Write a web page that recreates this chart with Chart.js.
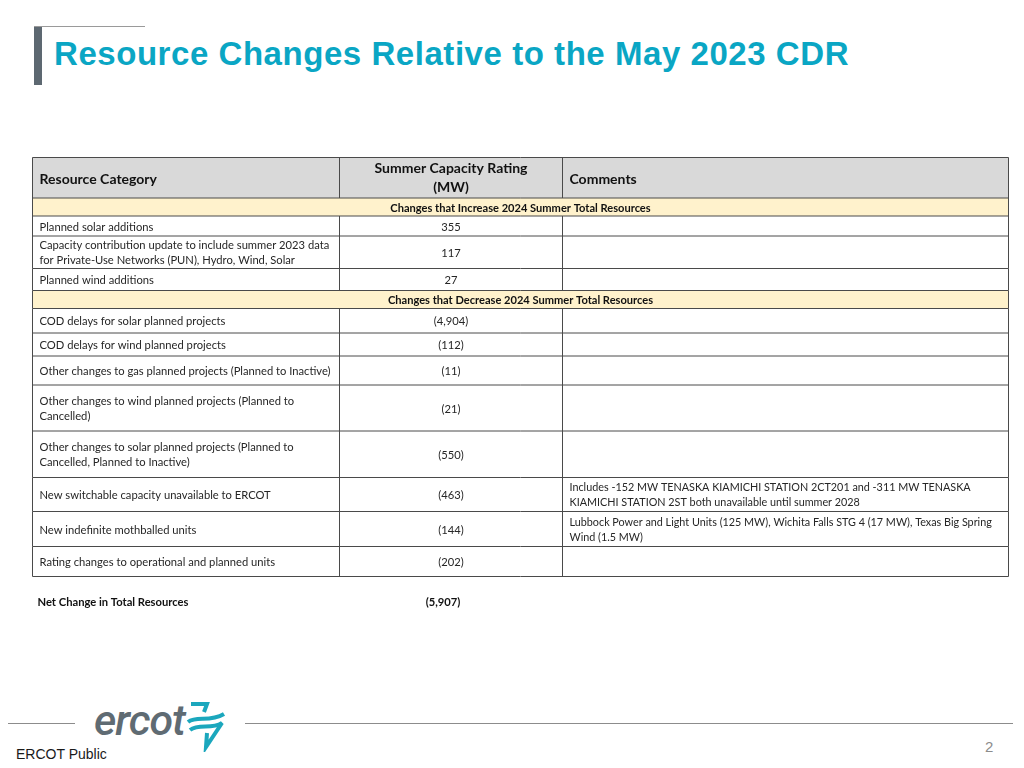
<!DOCTYPE html>
<html>
<head>
<meta charset="utf-8">
<script src="https://cdn.jsdelivr.net/npm/chart.js@4/dist/chart.umd.min.js"></script>
<style>
  html, body { margin: 0; padding: 0; background: #fff; }
  #page { position: relative; width: 1024px; height: 768px; overflow: hidden; font-family: "Liberation Sans", Arial, sans-serif; }
  .abs { position: absolute; }
  #bar { left: 34px; top: 27px; width: 8px; height: 58px; background: #5d6871; }
  #topline { left: 34px; top: 26px; width: 111px; height: 1px; background: #9a9a9a; }
  #title { left: 54px; top: 37px; margin: 0; font-size: 33px; line-height: 33px; letter-spacing: 0.55px; font-weight: bold; color: #0aa6c4; white-space: nowrap; }
  #tableChart { left: 28px; top: 150px; }
  .rule { height: 1px; background: #8c8c8c; top: 723px; }
  #logoText { left: 94px; top: 696px; font-family: Roboto, sans-serif; font-style: italic; font-weight: 500; font-size: 43px; line-height: 48px; color: #5f6b73; letter-spacing: -1px; }
  #public { left: 16px; top: 746px; font-size: 14px; line-height: 16px; color: #1a1a1a; }
  #pageNum { left: 985px; top: 738px; font-size: 15px; line-height: 18px; color: #8c8c8c; }
</style>
</head>
<body>
<div id="page">
  <div id="topline" class="abs"></div>
  <div id="bar" class="abs"></div>
  <h1 id="title" class="abs">Resource Changes Relative to the May 2023 CDR</h1>
  <canvas id="tableChart" class="abs" width="990" height="470"></canvas>
  <div class="abs rule" style="left:8px;width:67px"></div>
  <div class="abs rule" style="left:245px;width:768px"></div>
  <div id="logoText" class="abs">ercot</div>
  <svg class="abs" style="left:186px;top:698px" width="44" height="54" viewBox="186 698 44 54">
    <g fill="none" stroke="#1ba7bd" stroke-width="4" stroke-linejoin="miter">
      <path d="M191 704 H207 L204 712"/>
      <path d="M188 722 C197 715, 209 723, 224 714"/>
      <path d="M190 730 C199 723, 211 730, 222 723 L206 747 L207 733"/>
    </g>
  </svg>
  <div id="public" class="abs">ERCOT Public</div>
  <div id="pageNum" class="abs">2</div>
</div>
<script>
const columnHeaders = ["Resource Category", "Summer Capacity Rating\n(MW)", "Comments"];
const sectionLabels = [
  "Changes that Increase 2024 Summer Total Resources",
  "Changes that Decrease 2024 Summer Total Resources"
];
const sectionRowCounts = [3, 8];
const categories = [
  "Planned solar additions",
  "Capacity contribution update to include summer 2023 data\nfor Private-Use Networks (PUN), Hydro, Wind, Solar",
  "Planned wind additions",
  "COD delays for solar planned projects",
  "COD delays for wind planned projects",
  "Other changes to gas planned projects (Planned to Inactive)",
  "Other changes to wind planned projects (Planned to\nCancelled)",
  "Other changes to solar planned projects (Planned to\nCancelled, Planned to Inactive)",
  "New switchable capacity unavailable to ERCOT",
  "New indefinite mothballed units",
  "Rating changes to operational and planned units"
];
const capacityMW = [355, 117, 27, -4904, -112, -11, -21, -550, -463, -144, -202];
const comments = [
  "", "", "", "", "", "", "", "",
  "Includes -152 MW TENASKA KIAMICHI STATION 2CT201 and -311 MW TENASKA\nKIAMICHI STATION 2ST both unavailable until summer 2028",
  "Lubbock Power and Light Units (125 MW), Wichita Falls STG 4 (17 MW), Texas Big Spring\nWind (1.5 MW)",
  ""
];
const netLabel = "Net Change in Total Resources";
const netChangeMW = -5907;

// layout (chart units = canvas pixels)
const colEdges = [4.5, 311.5, 534.5, 980.5];
const tableTop = 7.5;
const headerHeight = 40.5;
const sectionHeight = 18;
const rowHeights = [20, 32.5, 22, 24.5, 23, 29, 46, 46.5, 34, 35, 30];
const netRowY = 452;
const lineGap = 15;

const tableFont = "Lato, 'Open Sans', sans-serif";
const borderColor = "#4a4a4a";

function fmtMW(v) {
  const s = Math.abs(v).toLocaleString("en-US");
  return v < 0 ? `(${s})` : s;
}

function drawLines(ctx, text, x, yMid, gap) {
  const lines = text.split("\n");
  const start = yMid - (gap * (lines.length - 1)) / 2;
  lines.forEach((ln, i) => ctx.fillText(ln, x, start + i * gap));
}

const tablePlugin = {
  id: "tablePlugin",
  afterDraw(chart) {
    const ctx = chart.ctx;
    const sx = chart.scales.x;
    const sy = chart.scales.y;
    const X = (v) => sx.getPixelForValue(v);
    const Y = (v) => sy.getPixelForValue(v);
    const left = X(colEdges[0]);
    const right = X(colEdges[3]);
    const midCol = (X(colEdges[1]) + X(colEdges[2])) / 2;

    ctx.save();
    ctx.lineWidth = 1;
    ctx.strokeStyle = borderColor;

    function hline(y) {
      ctx.beginPath();
      ctx.moveTo(left, y);
      ctx.lineTo(right, y);
      ctx.stroke();
    }
    function vlines(y0, y1) {
      for (const c of colEdges) {
        ctx.beginPath();
        ctx.moveTo(X(c), y0);
        ctx.lineTo(X(c), y1);
        ctx.stroke();
      }
    }

    // header
    let y = tableTop;
    let y0 = Y(y), y1 = Y(y + headerHeight);
    ctx.fillStyle = "#d9d9d9";
    ctx.fillRect(left, y0, right - left, y1 - y0);
    hline(y0);
    vlines(y0, y1);
    ctx.fillStyle = "#111";
    ctx.textBaseline = "middle";
    ctx.font = `bold 14px ${tableFont}`;
    ctx.textAlign = "left";
    drawLines(ctx, columnHeaders[0], X(colEdges[0]) + 7, (y0 + y1) / 2 + 1.5, 19);
    ctx.textAlign = "center";
    drawLines(ctx, columnHeaders[1], midCol, (y0 + y1) / 2 + 0.5, 19);
    ctx.textAlign = "left";
    drawLines(ctx, columnHeaders[2], X(colEdges[2]) + 7, (y0 + y1) / 2 + 1.5, 19);
    y += headerHeight;

    let r = 0;
    sectionLabels.forEach((label, s) => {
      // section band
      y0 = Y(y); y1 = Y(y + sectionHeight);
      ctx.fillStyle = "#fff2cc";
      ctx.fillRect(left, y0, right - left, y1 - y0);
      hline(y0);
      ctx.beginPath();
      ctx.moveTo(left, y0); ctx.lineTo(left, y1);
      ctx.moveTo(right, y0); ctx.lineTo(right, y1);
      ctx.stroke();
      ctx.fillStyle = "#111";
      ctx.font = `bold 11.1px ${tableFont}`;
      ctx.textAlign = "center";
      ctx.fillText(label, (left + right) / 2, (y0 + y1) / 2 + 1);
      y += sectionHeight;

      for (let k = 0; k < sectionRowCounts[s]; k++, r++) {
        y0 = Y(y); y1 = Y(y + rowHeights[r]);
        hline(y0);
        vlines(y0, y1);
        const mid = (y0 + y1) / 2 + 1;
        ctx.fillStyle = "#262626";
        ctx.font = `11.2px ${tableFont}`;
        ctx.textAlign = "left";
        drawLines(ctx, categories[r], X(colEdges[0]) + 7, mid, lineGap);
        ctx.textAlign = "center";
        ctx.fillText(fmtMW(capacityMW[r]), midCol, mid);
        ctx.textAlign = "left";
        ctx.font = `10.8px ${tableFont}`;
        if (comments[r]) drawLines(ctx, comments[r], X(colEdges[2]) + 7, mid, lineGap);
        y += rowHeights[r];
      }
    });
    hline(Y(y));

    // net change line
    ctx.fillStyle = "#111";
    ctx.font = `bold 11.2px ${tableFont}`;
    ctx.textAlign = "left";
    ctx.fillText(netLabel, X(colEdges[0]) + 5, Y(netRowY));
    ctx.textAlign = "center";
    ctx.fillText(fmtMW(netChangeMW), midCol - 8, Y(netRowY));
    ctx.restore();
  }
};

new Chart(document.getElementById("tableChart"), {
  type: "scatter",
  data: { datasets: [] },
  options: {
    responsive: false,
    animation: false,
    events: [],
    layout: { padding: 0 },
    plugins: { legend: { display: false }, tooltip: { enabled: false } },
    scales: {
      x: { type: "linear", min: 0, max: 990, display: false },
      y: { type: "linear", min: 0, max: 470, reverse: true, display: false }
    }
  },
  plugins: [tablePlugin]
});
</script>
</body>
</html>
